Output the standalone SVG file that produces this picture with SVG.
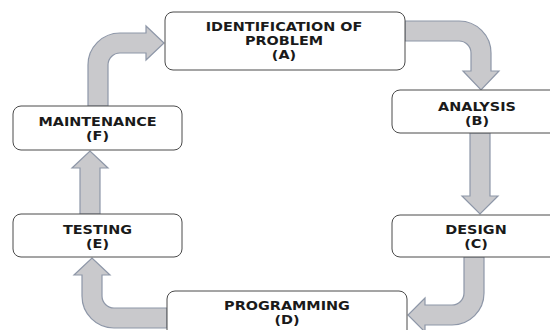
<svg xmlns="http://www.w3.org/2000/svg" width="550" height="330" viewBox="0 0 550 330">
<style>
.box{fill:#fff;stroke:#4a4a4a;stroke-width:1}
.arr{fill:#c9c9cc;stroke:#8e97a8;stroke-width:1.2;stroke-linejoin:miter}
text{font-family:"DejaVu Sans",Verdana,sans-serif;font-weight:bold;font-size:12px;fill:#1a1a1a;text-anchor:middle}
</style>
<rect width="550" height="330" fill="#fff"/>
<g id="connectors">
<path class="arr" d="M88,106 V65 A32,32 0 0 1 120,33 H146 V26 L164,43 L146,60 V53 H120 A12,12 0 0 0 108,65 V106 Z"/>
<path class="arr" d="M405,21 H459 A32,32 0 0 1 491,53 V71 H499 L481,90 L463,71 H471 V53 A12,12 0 0 0 459,41 H405 Z"/>
<path class="arr" d="M470,133 V196 H462 L480,214 L498,196 H490 V133 Z"/>
<path class="arr" d="M464,257 V293 A12,12 0 0 1 452,305 H425 V298 L408,315 L425,332 V325 H452 A32,32 0 0 0 484,293 V257 Z"/>
<path class="arr" d="M167,308 H114 A12,12 0 0 1 102,296 V275 H110 L92,258 L74,275 H82 V296 A32,32 0 0 0 114,328 H167 Z"/>
<path class="arr" d="M80,214 V168 H72 L90,151 L108,168 H100 V214 Z"/>
</g>
<g id="nodeA">
<rect class="box" x="165" y="12" width="240" height="58" rx="8"/>
<text transform="translate(284,30.5) scale(1.2,1)">IDENTIFICATION OF</text>
<text transform="translate(284,44.7) scale(1.2,1)">PROBLEM</text>
<text transform="translate(284,58.9) scale(1.2,1)">(A)</text>
</g>
<g id="nodeB">
<rect class="box" x="392" y="90" width="170" height="43" rx="8"/>
<text transform="translate(477,110.5) scale(1.2,1)">ANALYSIS</text>
<text transform="translate(477,124.7) scale(1.2,1)">(B)</text>
</g>
<g id="nodeC">
<rect class="box" x="392" y="215" width="170" height="42" rx="8"/>
<text transform="translate(476,233.5) scale(1.2,1)">DESIGN</text>
<text transform="translate(476,247.7) scale(1.2,1)">(C)</text>
</g>
<g id="nodeD">
<rect class="box" x="167" y="291" width="240" height="50" rx="8"/>
<text transform="translate(287,309.5) scale(1.2,1)">PROGRAMMING</text>
<text transform="translate(287,323.7) scale(1.2,1)">(D)</text>
</g>
<g id="nodeE">
<rect class="box" x="13" y="214" width="169" height="43" rx="8"/>
<text transform="translate(97.5,233.5) scale(1.2,1)">TESTING</text>
<text transform="translate(97.5,247.7) scale(1.2,1)">(E)</text>
</g>
<g id="nodeF">
<rect class="box" x="13" y="106" width="169" height="44" rx="8"/>
<text transform="translate(97.5,125.5) scale(1.2,1)">MAINTENANCE</text>
<text transform="translate(97.5,139.7) scale(1.2,1)">(F)</text>
</g>
</svg>
